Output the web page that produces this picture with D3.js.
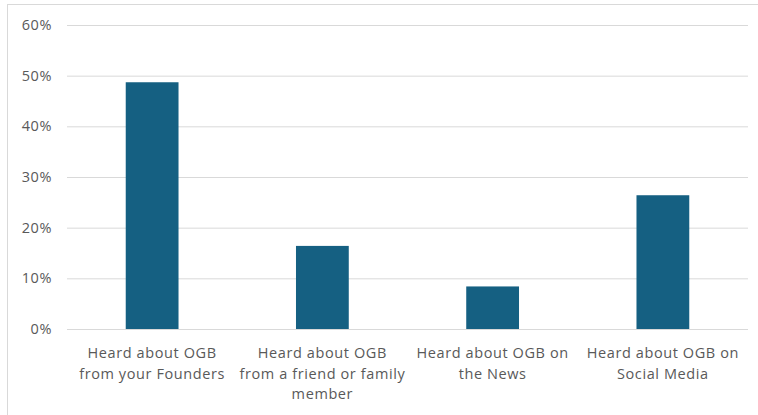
<!DOCTYPE html>
<html lang="en">
    <head>
        <meta charset="utf-8">
        <title>How people heard about OGB</title>
        <script src="https://d3js.org/d3.v7.min.js"></script>
        <style type="text/css">
            body { margin: 0; background: #fff; }
            .tick text, .cat-label {
                font-family: "Open Sans", sans-serif;
                font-size: 14.5px;
                letter-spacing: 0.6px;
                fill: #595959;
            }
        </style>
    </head>
    <body>
        <script type="text/javascript">

            //Data
            const categories = [
                ["Heard about OGB", "from your Founders"],
                ["Heard about OGB", "from a friend or family", "member"],
                ["Heard about OGB on", "the News"],
                ["Heard about OGB on", "Social Media"]
            ];
            const shares = [0.487, 0.164, 0.084, 0.264];
            const yTicks = [0, 0.1, 0.2, 0.3, 0.4, 0.5, 0.6];

            //declare consts
            const w = 758;
            const h = 415;
            const margin = {top: 25, right: 10, bottom: 86, left: 67};
            const barColor = "#156082";

            const svg = d3.select("body")
                    .append("svg")
                    .attr("width", w)
                    .attr("height", h);

            //chart frame (only top & left visible in the screenshot)
            svg.append("rect")
                .attr("x", 7.5)
                .attr("y", 4.5)
                .attr("width", w)
                .attr("height", h)
                .attr("fill", "none")
                .attr("stroke", "#d9d9d9");

            //scales
            const x = d3.scaleBand()
                    .domain(d3.range(categories.length))
                    .range([margin.left, w - margin.right])
                    .paddingInner(0.69)
                    .paddingOuter(0.345);

            const y = d3.scaleLinear()
                    .domain([0, 0.6])
                    .range([h - margin.bottom, margin.top]);

            //gridlines + y labels
            const yAxis = svg.append("g")
                    .attr("transform", "translate(" + margin.left + ",0)")
                    .call(d3.axisLeft(y)
                        .tickValues(yTicks)
                        .tickFormat(d3.format(".0%"))
                        .tickSize(-(w - margin.left - margin.right))
                        .tickPadding(15));
            yAxis.select(".domain").remove();
            yAxis.selectAll(".tick line")
                .attr("stroke", "#d9d9d9")
                .attr("stroke-width", 1);

            //bars
            svg.selectAll("rect.bar")
                .data(shares)
                .enter()
                .append("rect")
                .attr("class", "bar")
                .attr("x", (d, i) => x(i))
                .attr("y", d => y(d))
                .attr("width", x.bandwidth())
                .attr("height", d => y(0) - y(d))
                .attr("fill", barColor);

            //category labels
            const labels = svg.selectAll("text.cat-label")
                .data(categories)
                .enter()
                .append("text")
                .attr("class", "cat-label")
                .attr("text-anchor", "middle")
                .attr("x", (d, i) => x(i) + x.bandwidth() / 2)
                .attr("y", y(0) + 29);

            labels.selectAll("tspan")
                .data(d => d)
                .enter()
                .append("tspan")
                .attr("x", function() { return this.parentNode.getAttribute("x"); })
                .attr("dy", (d, i) => i === 0 ? 0 : 20.5)
                .text(d => d);

        </script>
    </body>
</html>
